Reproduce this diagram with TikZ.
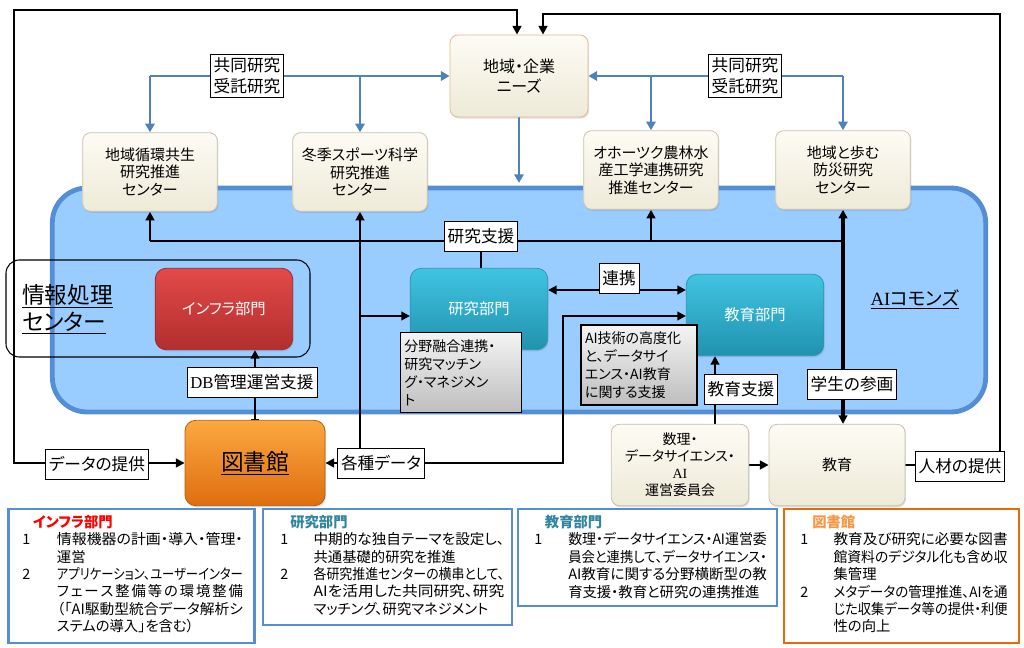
\documentclass[tikz,border=0pt]{standalone}
\usepackage{fontspec}
\usepackage{graphicx}
\setmainfont{Noto Sans CJK JP}[RawFeature=+palt]
\newfontfamily\lat{Liberation Serif}
\usetikzlibrary{arrows.meta, shadows}
\definecolor{bline}{RGB}{79,129,189}
\definecolor{cfill}{RGB}{153,204,255}
\definecolor{cedge}{RGB}{85,142,213}
\definecolor{creamtop}{RGB}{253,251,244}
\definecolor{creambot}{RGB}{238,234,216}
\definecolor{creamline}{RGB}{200,194,172}
\definecolor{needsline}{RGB}{230,185,143}
\definecolor{tealtop}{RGB}{64,196,226}
\definecolor{tealbot}{RGB}{33,146,174}
\definecolor{tealline}{RGB}{45,150,178}
\definecolor{redtop}{RGB}{226,74,72}
\definecolor{redbot}{RGB}{178,46,46}
\definecolor{redline}{RGB}{160,40,40}
\definecolor{orgtop}{RGB}{252,168,64}
\definecolor{orgbot}{RGB}{222,110,14}
\definecolor{orgline}{RGB}{180,92,14}
\definecolor{orgbox}{RGB}{228,108,10}
\definecolor{graytop}{RGB}{244,244,244}
\definecolor{graybot}{RGB}{190,190,190}
\definecolor{ttlteal}{RGB}{49,133,156}
\definecolor{ttlorg}{RGB}{247,150,70}
\newcommand{\jl}[2]{\resizebox{#1}{\height}{#2}}
\pgfdeclarelayer{back}
\pgfdeclarelayer{mid}
\pgfsetlayers{back,mid,main}

\begin{document}
\begin{tikzpicture}[
                    x=0.75pt, y=-0.75pt,
                    >={Triangle[length=6.5pt,width=6.5pt]},
                    ctrbox/.style={rounded corners=6pt, draw=creamline, line width=0.6pt,
                                   top color=creamtop, bottom color=creambot, align=center,
                                   font=\fontsize{11.25}{13.2}\selectfont, inner sep=2pt,
                                   minimum width=101pt, minimum height=59pt,
                                   drop shadow={shadow xshift=0.8pt, shadow yshift=-1.2pt, opacity=0.25}},
                    dept/.style={rounded corners=8pt, draw=tealline, line width=0.6pt,
                                 top color=tealtop, bottom color=tealbot, text=white,
                                 font=\fontsize{11.5}{14}\selectfont,
                                 minimum width=103pt, minimum height=61pt,
                                 drop shadow={shadow xshift=0.8pt, shadow yshift=-1.2pt, opacity=0.25}},
                    notebox/.style={draw=black, line width=0.8pt, top color=graytop, bottom color=graybot,
                                    align=left, font=\fontsize{10.5}{13.5}\selectfont, inner sep=3pt,
                                    minimum height=60pt},
                    lbl/.style={draw=black, line width=0.6pt, fill=white, align=center, inner sep=2.5pt,
                                font=\fontsize{12.5}{16}\selectfont, minimum height=22.5pt},
                    sumbox/.style={draw=cedge, line width=2.2pt},
                    desc/.style={anchor=north west, inner sep=0pt, align=left,
                                 font=\fontsize{10.75}{13}\selectfont},
                    blk/.style={line width=2.1pt},
                    thk/.style={line width=3pt},
                    blu/.style={line width=2.1pt, draw=bline, >={Triangle[length=6.5pt,width=7pt]}}
                ]
\useasboundingbox (0,0) rectangle (1024,648);

\begin{pgfonlayer}{back}
\node[draw=cedge, line width=3.6pt, fill=cfill, rounded corners=26pt,
      minimum width=700pt, minimum height=168pt] (commons) at (519,300) {};
\end{pgfonlayer}

\node[ctrbox, draw=needsline, minimum width=103.5pt, minimum height=61.5pt,
      font=\fontsize{12}{15}\selectfont] (needs) at (519,76) {地域・企業\\ニーズ};
\node[ctrbox] (c1) at (150,172) {地域循環共生\\研究推進\\センター};
\node[ctrbox] (c2) at (360,172) {冬季スポーツ科学\\研究推進\\センター};
\node[ctrbox] (c3) at (651,170) {オホーツク農林水\\産工学連携研究\\推進センター};
\node[ctrbox] (c4) at (843,170) {地域と歩む\\防災研究\\センター};
\node[lbl] (jl1) at (247,76) {共同研究\\受託研究};
\node[lbl] (jl2) at (745,76) {共同研究\\受託研究};

\node[font=\fontsize{14}{16}\selectfont] (aic) at (915,299) {\underline{{\lat AI}コモンズ}};

\node[draw, line width=0.8pt, rounded corners=10pt,
      minimum width=228pt, minimum height=72.75pt] (info) at (158,308.5) {};
\node[anchor=west, align=left, inner sep=0pt,
      font=\fontsize{17}{20}\selectfont] (infoname) at (22,309) {\underline{情報処理}\\\underline{センター}};
\node[dept, draw=redline, top color=redtop, bottom color=redbot,
      font=\fontsize{11.5}{14}\selectfont] (infra) at (224,309) {インフラ部門};
\node[dept] (res) at (479,309) {研究部門};
\node[dept] (edu) at (755,315) {教育部門};
\node[notebox, text width=85pt] (fusion) at (461,372.5) {分野融合連携・\\研究マッチン\\グ・マネジメン\\ト};
\node[notebox, text width=81pt] (aitech) at (639,365) {AI技術の高度化\\と、データサイ\\エンス・AI教育\\に関する支援};

\node[lbl] (shien) at (481,236) {研究支援};
\node[lbl] (renkei) at (619,278) {連携};
\node[lbl] (dbl) at (252,382) {{\lat DB}管理運営支援};
\node[lbl] (eduspt) at (741,389.5) {教育支援};
\node[lbl] (sankaku) at (852,384) {学生の参画};

\node[rounded corners=8pt, draw=orgline, line width=0.6pt, top color=orgtop, bottom color=orgbot,
      minimum width=105pt, minimum height=64pt, font=\fontsize{17}{20}\selectfont,
      drop shadow={shadow xshift=0.8pt, shadow yshift=-1.2pt, opacity=0.25}] (library) at (255,463) {\underline{図書館}};
\node[lbl] (datap) at (97,464) {データの提供};
\node[lbl] (kakushu) at (381,463) {各種データ};
\node[ctrbox, minimum width=103pt, minimum height=61pt,
      font=\fontsize{10.5}{12.75}\selectfont] (suuri) at (680,465) {数理・\\データサイエンス・\\{\lat AI}\\運営委員会};
\node[ctrbox, minimum width=102pt, minimum height=61pt] (kyoiku) at (837,465) {教育};
\node[lbl] (jinzai) at (960,466) {人材の提供};

\node[sumbox, minimum width=185pt, minimum height=100.5pt] (b1) at (131.5,576) {};
\node[sumbox, minimum width=186.75pt, minimum height=87pt] (b2) at (387.5,567) {};
\node[sumbox, minimum width=194.25pt, minimum height=72.75pt] (b3) at (647.5,557.5) {};
\node[sumbox, draw=orgbox, minimum width=176.25pt, minimum height=100.5pt] (b4) at (901.5,576) {};

\node[desc] (t1) at (22,515) {\begin{tabular}{@{}p{26pt}@{}l@{}}
    \multicolumn{2}{@{\hspace{8pt}}l@{}}{\bfseries\color{red}インフラ部門}\\
    1 & \jl{139.5pt}{情報機器の計画・導入・管理・}\\
      & 運営\\
    2 & \jl{139.5pt}{アプリケーション、ユーザーインター}\\
      & \makebox[139.5pt][s]{フ\hfill ェ\hfill ー\hfill ス\hfill 整\hfill 備\hfill 等\hfill の\hfill 環\hfill 境\hfill 整\hfill 備}\\
      & \jl{139.5pt}{（「AI駆動型統合データ解析シ}\\
      & ステムの導入」を含む）
  \end{tabular}};
\node[desc] (t2) at (280,515) {\begin{tabular}{@{}p{25pt}@{}l@{}}
    \multicolumn{2}{@{\hspace{7.5pt}}l@{}}{\bfseries\color{ttlteal}研究部門}\\
    1 & \jl{143pt}{中期的な独自テーマを設定し、}\\
      & 共通基礎的研究を推進\\
    2 & \jl{143pt}{各研究推進センターの横串として、}\\
      & \jl{143pt}{AIを活用した共同研究、研究}\\
      & マッチング、研究マネジメント
  \end{tabular}};
\node[desc] (t3) at (534,515) {\begin{tabular}{@{}p{25.5pt}@{}l@{}}
    \multicolumn{2}{@{\hspace{8pt}}l@{}}{\bfseries\color{ttlteal}教育部門}\\
    1 & \jl{149pt}{数理・データサイエンス・AI運営委}\\
      & \jl{149pt}{員会と連携して、データサイエンス・}\\
      & \jl{149pt}{AI教育に関する分野横断型の教}\\
      & 育支援・教育と研究の連携推進
  \end{tabular}};
\node[desc] (t4) at (800,515) {\begin{tabular}{@{}p{25pt}@{}l@{}}
    \multicolumn{2}{@{\hspace{9pt}}l@{}}{\bfseries\color{ttlorg}図書館}\\
    1 & \jl{130.5pt}{教育及び研究に必要な図書}\\
      & \jl{130.5pt}{館資料のデジタル化も含め収}\\
      & 集管理\\
    2 & \jl{130.5pt}{メタデータの管理推進、AIを通}\\
      & \jl{130.5pt}{じた収集データ等の提供・利便}\\
      & 性の向上
  \end{tabular}};

\begin{pgfonlayer}{mid}
\coordinate (hs) at (0,241);
\coordinate (jr) at (0,316);
\coordinate (lk) at (0,290);
\coordinate (kk) at (563,316);
\coordinate (es) at (715,0);
\draw[blu,->] (c1.north |- jl1) -- (needs.west);
\draw[blu,->] (c1.north |- jl1) -- (c1.north);
\draw[blu,->] (c2.north |- jl1) -- (c2.north);
\draw[blu,->] (c4.north |- jl2) -- (needs.east);
\draw[blu,->] (c3.north |- jl2) -- (c3.north);
\draw[blu,->] (c4.north |- jl2) -- (c4.north);
\draw[blu,->] (needs.south) -- ([yshift=2pt]needs.south |- commons.north);
\draw[blk,<->] ([xshift=-1.5pt]needs.north) |- (14,10) |- (library.west);
\draw[blk,->] (kyoiku.east) -| (1000,14) -| ([xshift=18pt]needs.north);
\draw[blk] (c1.south |- hs) -- (c4.south |- hs);
\draw[blk,->] (c1.south |- hs) -- (c1.south);
\draw[blk,->] (c3.south |- hs) -- (c3.south);
\draw[blk] (shien.south) -- (shien.south |- res.north);
\draw[blk,->] (kakushu.north -| c2.south) -- (c2.south);
\draw[blk,->] (c2.south |- jr) -- (res.west |- jr);
\draw[thk,<->] (c4.south) -- (kyoiku.north -| c4.south);
\draw[blk,<->] (res.east |- lk) -- (edu.west |- lk);
\draw[blk,<->] (library.east) -| (kk) -- (edu.west |- kk);
\draw[blk,arrows={Bar[width=6pt,line width=0.8pt]->}] (library.north) -- (library.north |- infra.south);
\draw[blk,->] (suuri.north -| es) -- (edu.south -| es);
\draw[blk,->] (suuri) -- (kyoiku);
\end{pgfonlayer}
\end{tikzpicture}
\end{document}
